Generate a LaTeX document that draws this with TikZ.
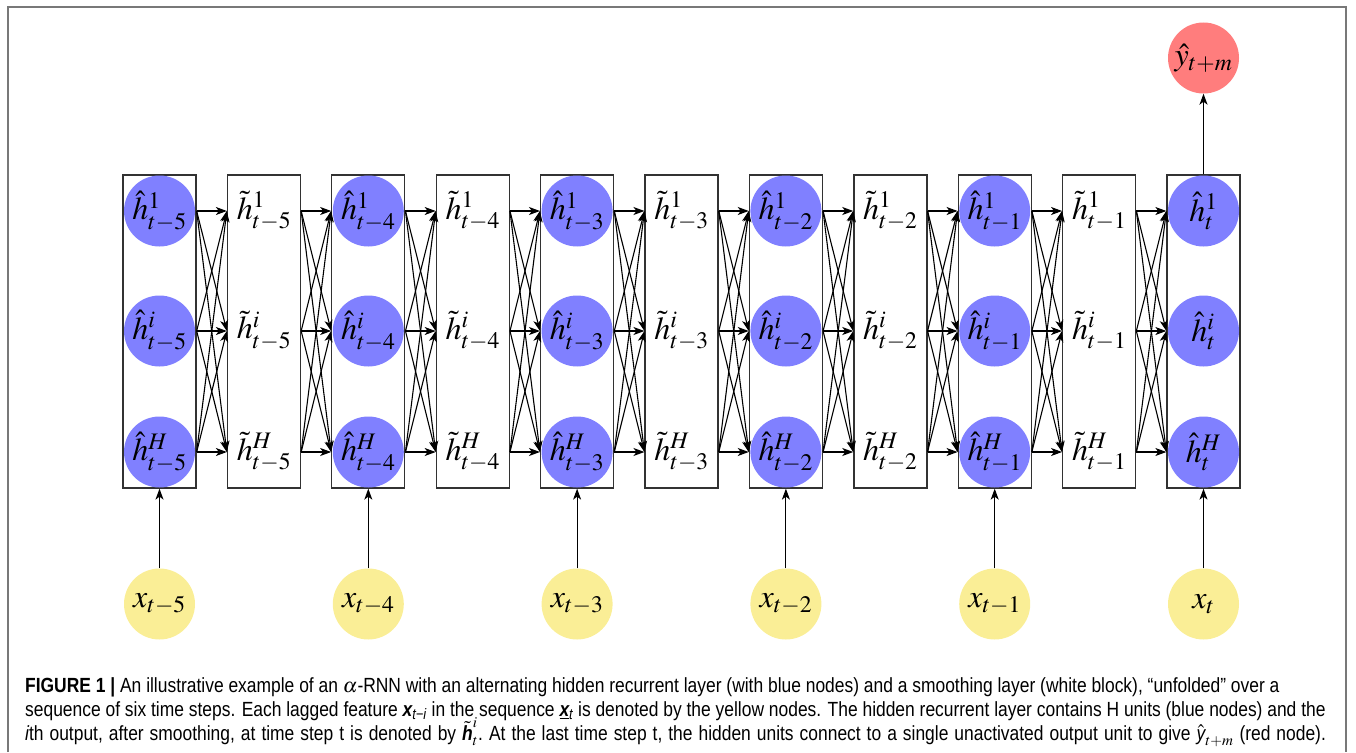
\documentclass[tikz,border=0pt]{standalone}
\usepackage{mathptmx}
\usepackage{fontspec}
\newfontfamily\capfont{Liberation Sans}[FakeStretch=0.85]
\usetikzlibrary{arrows.meta,positioning}
\definecolor{hidblue}{RGB}{128,128,255}
\definecolor{inpyellow}{RGB}{250,238,150}
\definecolor{outred}{RGB}{255,125,125}
\definecolor{framegray}{RGB}{120,120,120}
\definecolor{boxgray}{RGB}{50,50,50}

\begin{document}
\begin{tikzpicture}[x=1pt,y=-1pt,>={Stealth[length=11pt,width=8pt,inset=3pt]},
    blk/.style={draw=boxgray,line width=1.3pt,minimum width=73pt,minimum height=313pt,inner sep=0pt},
    unit/.style={circle,minimum size=71pt,inner sep=0pt,font=\fontsize{32}{38}\selectfont},
    hid/.style={unit,fill=hidblue},
    inp/.style={unit,fill=inpyellow},
    outp/.style={unit,fill=outred},
    sm/.style={inner sep=0pt,font=\fontsize{32}{38}\selectfont},
    con/.style={->,line width=1.1pt},
    capline/.style={anchor=base west,inner sep=0pt,font=\capfont\fontsize{20.5}{24}\selectfont}]
  \useasboundingbox (0,0) rectangle (1356,752);
  \draw[framegray,line width=2pt] (8,752) -- (8,7) -- (1346,7) -- (1346,752);
  % hidden recurrent blocks and inputs
  \foreach \k/\lag in {1/5,2/4,3/3,4/2,5/1,6/0}{
    \ifnum\lag=0 \def\tsub{t}\else\def\tsub{t-\lag}\fi
    \pgfmathsetmacro\bx{159.5+(\k-1)*208.8}
    \node[blk] (hb\k) at (\bx,331.5) {};
    \node[hid] (h\k1) at (\bx,211) {$\hat{h}^{1}_{\tsub}$};
    \node[hid] (h\k i) at (\bx,331) {$\hat{h}^{i}_{\tsub}$};
    \node[hid] (h\k H) at (\bx,452) {$\hat{h}^{H}_{\tsub}$};
    \node[inp] (x\k) at (\bx,604) {$x_{\tsub}$};
    \draw[con] (x\k) -- (hb\k.south);
  }
  % smoothing blocks
  \foreach \k/\lag in {1/5,2/4,3/3,4/2,5/1}{
    \pgfmathsetmacro\sx{264+(\k-1)*208.8}
    \node[blk] (sb\k) at (\sx,331.5) {};
    \node[sm] (s\k1) at (\sx,211) {$\tilde{h}^{1}_{t-\lag}$};
    \node[sm] (s\k i) at (\sx,331) {$\tilde{h}^{i}_{t-\lag}$};
    \node[sm] (s\k H) at (\sx,452) {$\tilde{h}^{H}_{t-\lag}$};
  }
  % dense connections between blocks
  \foreach \k [evaluate=\k as \n using int(\k+1)] in {1,...,5}{
    \foreach \a in {1,i,H}{
      \foreach \b in {1,i,H}{
        \draw[con] (hb\k.east |- h\k\a) -- (sb\k.west |- s\k\b);
        \draw[con] (sb\k.east |- s\k\a) -- (hb\n.west |- h\n\b);
      }
    }
  }
  % output unit
  \node[outp] (y) at (1203.5,58) {$\hat{y}_{t+m}$};
  \draw[con] (hb6.north) -- (y);
  % caption
  \node[capline] (cap1) at (25,692) {\textbf{FIGURE 1 |} An illustrative example of an $\alpha$-RNN with an alternating hidden recurrent layer (with blue nodes) and a smoothing layer (white block), “unfolded” over a};
  \node[capline] (cap2) at (25,716) {sequence of six time steps. Each lagged feature {\bfseries\itshape x}\textsubscript{\itshape t−i} in the sequence \underline{\bfseries\itshape x}\textsubscript{\itshape t} is denoted by the yellow nodes. The hidden recurrent layer contains H units (blue nodes) and the};
  \node[capline] (cap3) at (25,740) {\spaceskip=6pt\xspaceskip=6pt\relax {\itshape i}th output, after smoothing, at time step t is denoted by $\tilde{\mbox{\bfseries\itshape h}}^{i}_{t}$. At the last time step t, the hidden units connect to a single unactivated output unit to give $\hat{\mbox{\itshape y}}_{t+m}$ (red node).};
\end{tikzpicture}
\end{document}
